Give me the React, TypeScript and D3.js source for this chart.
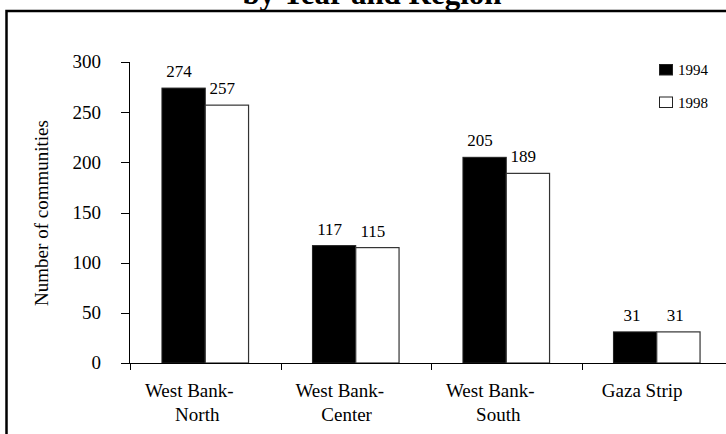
import React, { useEffect, useRef } from "react";
import * as d3 from "d3";

const categories = [["West Bank-", "North"], ["West Bank-", "Center"], ["West Bank-", "South"], ["Gaza Strip"]];
const categoryKeys = ["West Bank-North", "West Bank-Center", "West Bank-South", "Gaza Strip"];
const seriesNames = ["1994", "1998"];
const values1994 = [274, 117, 205, 31];
const values1998 = [257, 115, 189, 31];
const yTicks = [0, 50, 100, 150, 200, 250, 300];
const title = "by Year and Region";
const yLabel = "Number of communities";

export default function App() {
  const ref = useRef<SVGSVGElement>(null);
  useEffect(() => {
    const svg = d3.select(ref.current);
    svg.selectAll("*").remove();
    const font = "'Liberation Serif', 'Times New Roman', serif";
    const W = 726, H = 434;
    const y = d3.scaleLinear().domain([0, 300]).range([363, 62]);
    const x = d3.scaleBand().domain(categoryKeys).range([130, 732]).paddingInner(0).paddingOuter(0);
    const barW = 43.3;
    const shiftK = -0.18;

    svg.append("rect").attr("x", 0).attr("y", 0).attr("width", W).attr("height", H).attr("fill", "white");
    // frame
    svg.append("rect").attr("x", 6.5).attr("y", 11).attr("width", 760).attr("height", 460)
      .attr("fill", "none").attr("stroke", "black").attr("stroke-width", 2.5);

    // title
    svg.append("text").attr("x", 372).attr("y", 4).attr("text-anchor", "middle")
      .attr("font-family", font).attr("font-weight", "bold").attr("font-size", 31).text(title);

    // bars
    const data = categoryKeys.map((k, i) => ({ k, a: values1994[i], b: values1998[i] }));
    const g = svg.append("g");
    data.forEach((d) => {
      const c = (x(d.k) as number) + x.bandwidth() / 2;
      g.append("rect").attr("x", c - barW).attr("y", y(d.a)).attr("width", barW).attr("height", y(0) - y(d.a))
        .attr("fill", "black").attr("stroke", "#222").attr("stroke-width", 1);
      g.append("rect").attr("x", c).attr("y", y(d.b)).attr("width", barW).attr("height", y(0) - y(d.b))
        .attr("fill", "white").attr("stroke", "#333").attr("stroke-width", 1.2);
      g.append("text").attr("class", "shift").attr("x", c - barW / 2).attr("y", y(d.a) - 11)
        .attr("text-anchor", "middle").attr("font-family", font).attr("font-size", 17).text(String(d.a));
      g.append("text").attr("class", "shift").attr("x", c + barW / 2).attr("y", y(d.b) - 11)
        .attr("text-anchor", "middle").attr("font-family", font).attr("font-size", 17).text(String(d.b));
    });

    // y axis
    const ya = svg.append("g");
    ya.append("line").attr("x1", 129.5).attr("x2", 129.5).attr("y1", y(300)).attr("y2", y(0)).attr("stroke", "black");
    yTicks.forEach((t) => {
      ya.append("line").attr("x1", 121).attr("x2", 129.5).attr("y1", Math.round(y(t)) + 0.5).attr("y2", Math.round(y(t)) + 0.5).attr("stroke", "black");
      ya.append("text").attr("x", 101).attr("y", y(t)).attr("dy", "0.34em").attr("text-anchor", "end")
        .attr("font-family", font).attr("font-size", 19).text(String(t));
    });
    // x axis
    svg.append("line").attr("x1", 121).attr("x2", 732).attr("y1", y(0) + 0.5).attr("y2", y(0) + 0.5).attr("stroke", "black");
    categoryKeys.forEach((k, i) => {
      const x0 = Math.round(x(k) as number) + 0.5;
      svg.append("line").attr("x1", x0).attr("x2", x0).attr("y1", y(0)).attr("y2", y(0) + 7).attr("stroke", "black");
      const c = (x(k) as number) + x.bandwidth() / 2;
      categories[i].forEach((line, j) => {
        svg.append("text").attr("class", "shift").attr("x", c).attr("y", 397 + j * 24)
          .attr("text-anchor", "middle").attr("font-family", font).attr("font-size", 19).text(line);
      });
    });

    // y label
    svg.append("text").attr("transform", "translate(48,213) rotate(-90)").attr("text-anchor", "middle")
      .attr("font-family", font).attr("font-size", 19).text(yLabel);

    // legend
    seriesNames.forEach((s, i) => {
      const ly = 64.5 + i * 32.5;
      svg.append("rect").attr("x", 659.5).attr("y", ly).attr("width", 13).attr("height", 10.5)
        .attr("fill", i === 0 ? "black" : "white").attr("stroke", "#222").attr("stroke-width", 1);
      svg.append("text").attr("x", 678).attr("y", ly + 10.5).attr("font-family", font).attr("font-size", 15).text(s);
    });

    // shift centered texts as in reference
    svg.selectAll<SVGTextElement, unknown>("text.shift").each(function () {
      const w = this.getComputedTextLength();
      d3.select(this).attr("dx", shiftK * w);
    });
  }, []);
  return (
    <svg ref={ref} width={726} height={434} style={{ position: "absolute", left: 0, top: 0 }} />
  );
}
